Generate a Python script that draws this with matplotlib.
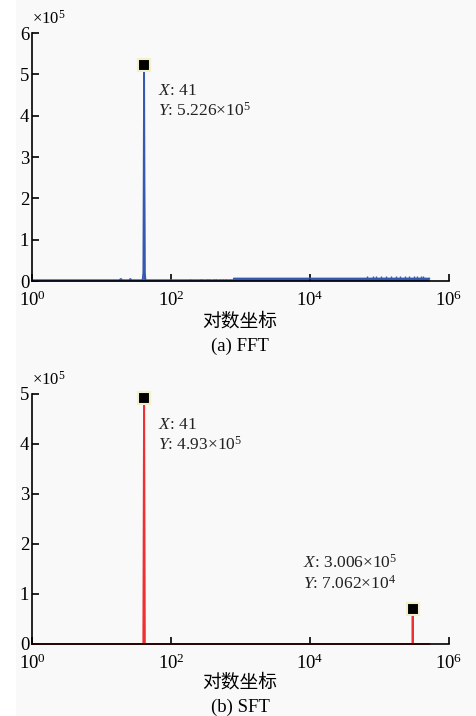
import numpy as np
import matplotlib.pyplot as plt
from matplotlib.patches import Rectangle

plt.rcParams['font.family'] = ['Liberation Serif', 'Noto Sans CJK SC']
plt.rcParams['mathtext.fontset'] = 'custom'
plt.rcParams['mathtext.rm'] = 'Liberation Serif'
plt.rcParams['mathtext.it'] = 'Liberation Serif:italic'

# FFT spectrum (frequency, magnitude)
fft_freq = [1, 18, 19, 20, 25, 26, 27, 39, 40, 41, 42, 43, 800, 801, 5.2e5]
fft_mag = [2e3, 2e3, 5e3, 2e3, 2e3, 5e3, 2e3, 2e3, 2e4, 5.226e5, 2e4, 2e3,
           2e3, 6e3, 6e3]
# small spikes riding on the FFT noise floor
fft_spike_freq = [190, 260, 280, 330, 350, 410, 440, 500, 560, 620, 700,
                  6.6e4, 8e4, 9e4, 1.05e5, 1.25e5, 1.45e5, 1.7e5, 2e5, 2.3e5,
                  2.7e5, 3.1e5, 3.5e5, 3.9e5, 4.2e5]
fft_spike_mag = [6e3, 6e3, 5e3, 6e3, 6e3, 6e3, 5e3, 6e3, 5e3, 6e3, 6e3,
                 1.1e4, 1.1e4, 1.2e4, 1.1e4, 1.2e4, 1.1e4, 1.2e4, 1.1e4,
                 1.2e4, 1.1e4, 1.2e4, 1.1e4, 1.3e4, 1.2e4]

# SFT spectrum
sft_freq = [1, 40, 41, 42, 3.0e5, 3.006e5, 3.012e5, 5.2e5]
sft_mag = [0, 0, 4.93e5, 0, 0, 7.062e4, 0, 0]

fft_peak = (41, 5.226e5)
sft_peaks = [(41, 4.93e5), (3.006e5, 7.062e4)]

bg = '#f9f9f9'
fig = plt.figure(figsize=(4.76, 7.16), dpi=100, facecolor=bg)
fig.patches.append(Rectangle((0, 0), 16 / 476, 1, transform=fig.transFigure,
                             facecolor='white', edgecolor='none', zorder=0))

ax1 = fig.add_axes([32 / 476, (716 - 281) / 716, 417 / 476, 248 / 716])
ax2 = fig.add_axes([32 / 476, (716 - 644) / 716, 417 / 476, 250 / 716])


def style(ax, ymax):
    ax.set_facecolor(bg)
    ax.set_xscale('log')
    ax.set_xlim(1, 1e6)
    ax.set_ylim(0, ymax)
    ax.spines['top'].set_visible(False)
    ax.spines['right'].set_visible(False)
    ax.spines['left'].set_linewidth(1.2)
    ax.spines['bottom'].set_linewidth(1.2)
    ax.set_xticks([1, 1e2, 1e4, 1e6])
    ax.set_xticklabels([r'$10^0$', r'$10^2$', r'$10^4$', r'$10^6$'])
    ax.xaxis.set_minor_locator(plt.NullLocator())
    ax.set_yticks(np.arange(0, ymax + 1, 1e5))
    ax.set_yticklabels([str(i) for i in range(int(ymax / 1e5) + 1)])
    ax.tick_params(direction='in', length=5, width=1.2, labelsize=13.5,
                   pad=2)
    ax.tick_params(axis='x', pad=7)
    ax.text(0.0, 1.02, r'$\times10^5$', transform=ax.transAxes, fontsize=12,
            ha='left', va='bottom')


style(ax1, 6e5)
style(ax2, 5e5)

ax1.plot(fft_freq, fft_mag, color='#3558b0', lw=1.3, clip_on=False)
ax1.fill_between(fft_freq, fft_mag, color='#3558b0', lw=0)
ax1.vlines(fft_spike_freq, 0, fft_spike_mag, color='#3558b0', lw=1.0)
ax2.plot(sft_freq, sft_mag, color='#ee3030', lw=1.4, clip_on=False)

mk = dict(marker='s', ms=9, mfc='black', mec='#f3efc8', mew=1.5,
          clip_on=False, zorder=5)
ax1.plot(*fft_peak, **mk)
for p in sft_peaks:
    ax2.plot(*p, **mk)

txt = dict(fontsize=12.5, color='#222222', ha='left', va='center')
ax1.annotate(r'$X$: 41', fft_peak, xytext=(10, -19),
             textcoords='offset points', **txt)
ax1.annotate(r'$Y$: 5.226$\times$10$^5$', fft_peak, xytext=(10, -33),
             textcoords='offset points', **txt)
ax2.annotate(r'$X$: 41', sft_peaks[0], xytext=(10, -20),
             textcoords='offset points', **txt)
ax2.annotate(r'$Y$: 4.93$\times$10$^5$', sft_peaks[0], xytext=(10, -34),
             textcoords='offset points', **txt)
ax2.annotate(r'$X$: 3.006$\times$10$^5$', sft_peaks[1], xytext=(-79, 33),
             textcoords='offset points', **txt)
ax2.annotate(r'$Y$: 7.062$\times$10$^4$', sft_peaks[1], xytext=(-79, 18),
             textcoords='offset points', **txt)

for y, cap in [(322, '(a) FFT'), (683, '(b) SFT')]:
    fig.text(240 / 476, 1 - y / 716, '对数坐标', fontsize=13.5, ha='center',
             va='center')
    fig.text(240 / 476, 1 - (y + 24) / 716, cap, fontsize=13.5,
             ha='center', va='center')

fig.savefig('out.png', dpi=100, facecolor=bg)
